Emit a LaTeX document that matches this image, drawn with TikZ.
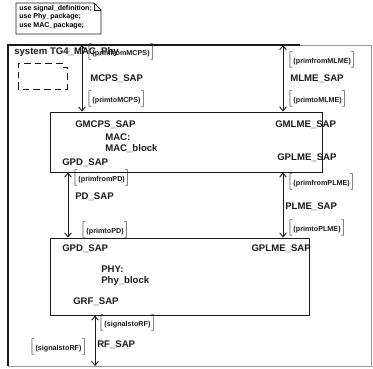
\documentclass[tikz,border=0pt]{standalone}
\usepackage{fontspec}
\setmainfont{Liberation Sans}
\usepackage{xcolor}
\usetikzlibrary{arrows.meta}
\definecolor{ink}{HTML}{1A1A1A}
\definecolor{faint}{HTML}{9A9A9A}
\newcommand{\siglist}[1]{$\big[$\kern0.5pt{\fontsize{5.4}{6}\selectfont\bfseries(#1)}\kern0.5pt$\big]$}
\tikzset{
  block/.style={draw=ink, line width=0.7pt, inner sep=0pt},
  chan/.style={draw=ink, line width=0.7pt, {Straight Barb[length=3pt,width=5pt]}-{Straight Barb[length=3pt,width=5pt]}},
  lbl/.style={anchor=west, inner sep=0pt, font=\fontsize{7.2}{8.1}\selectfont\bfseries, text=ink},
  sig/.style={anchor=west, inner sep=0pt, text=ink},
}

\begin{document}
\begin{tikzpicture}[x=0.75pt, y=-0.75pt]
\useasboundingbox (0,0) rectangle (373,368);
% package note
\draw[ink, line width=0.7pt] (16,3) -- (94,3) -- (101,10) -- (101,34) -- (16,34) -- cycle;
\draw[ink, line width=0.6pt] (94,3) |- (101,10);
\node[anchor=north west, align=left, inner sep=0pt, font=\fontsize{5.3}{6.4}\selectfont\bfseries] (uses) at (19,5)
  {use signal\_definition;\\use Phy\_package;\\use MAC\_package;};

% system frame
\draw[ink, line width=0.8pt] (8,366) -- (8,45) -- (300,45);
\draw[faint, line width=0.6pt] (300,45) -- (371,45) -- (371,366) -- (8,366);
\node[lbl] (title) at (14,52) {system TG4\_MAC\_Phy};
\draw[ink, line width=0.7pt, dash pattern=on 5pt off 3pt] (18,89) -- (18,63) -- (62,63) -- (62,67) -- (67,67) -- (67,89) -- cycle;

% blocks
\node[block, minimum width=204pt, minimum height=45pt] (mac) at (186,142) {};
\node[block, minimum width=194.25pt, minimum height=57.75pt] (phy) at (179.5,276.5) {};

\node[lbl] (gmcps) at (75,125) {GMCPS\_SAP};
\node[lbl, align=left] (macname) at (105,143) {MAC:\\MAC\_block};
\node[lbl] (gpdmac) at (62,163) {GPD\_SAP};
\node[lbl] (gmlme) at (275,125) {GMLME\_SAP};
\node[lbl] (gplmemac) at (277,158) {GPLME\_SAP};

\node[lbl] (gpdphy) at (62,249) {GPD\_SAP};
\node[lbl, align=left] (phyname) at (101,276) {PHY:\\Phy\_block};
\node[lbl] (grf) at (73,302) {GRF\_SAP};
\node[lbl, anchor=east] (gplmephy) at (311,249) {GPLME\_SAP};

% channels
\coordinate (mcps) at (82,45);
\coordinate (mlme) at (283,45);
\coordinate (pdx) at (68,0);
\coordinate (rf) at (95,366);
\draw[chan] (mcps) -- (mcps |- mac.north);
\draw[chan] (mlme) -- (mlme |- mac.north);
\draw[chan] (pdx |- mac.south) -- (pdx |- phy.north);
\draw[chan] (mlme |- mac.south) -- (mlme |- phy.north);
\draw[chan] (rf |- phy.south) -- (rf);

\node[sig] (mcpsfrom) at (86,52) {\siglist{primfromMCPS}};
\node[lbl] (mcpsname) at (90,79) {MCPS\_SAP};
\node[sig] (mcpsto) at (86,99) {\siglist{primtoMCPS}};
\node[sig] (mlmefrom) at (287,60) {\siglist{primfromMLME}};
\node[lbl] (mlmename) at (290,79) {MLME\_SAP};
\node[sig] (mlmeto) at (287,99) {\siglist{primtoMLME}};

\node[sig] (pdfrom) at (72,178) {\siglist{primfromPD}};
\node[lbl] (pdname) at (75,197) {PD\_SAP};
\node[sig] (pdto) at (80,230) {\siglist{primtoPD}};
\node[sig] (plmefrom) at (287,182) {\siglist{primfromPLME}};
\node[lbl] (plmename) at (285,207) {PLME\_SAP};
\node[sig] (plmeto) at (287,228) {\siglist{primtoPLME}};

\node[sig] (rfto) at (98,323) {\siglist{signalstoRF}};
\node[lbl] (rfname) at (97,345) {RF\_SAP};
\node[sig, anchor=east] (rffrom) at (88,347) {\siglist{signalstoRF}};
\end{tikzpicture}
\end{document}
